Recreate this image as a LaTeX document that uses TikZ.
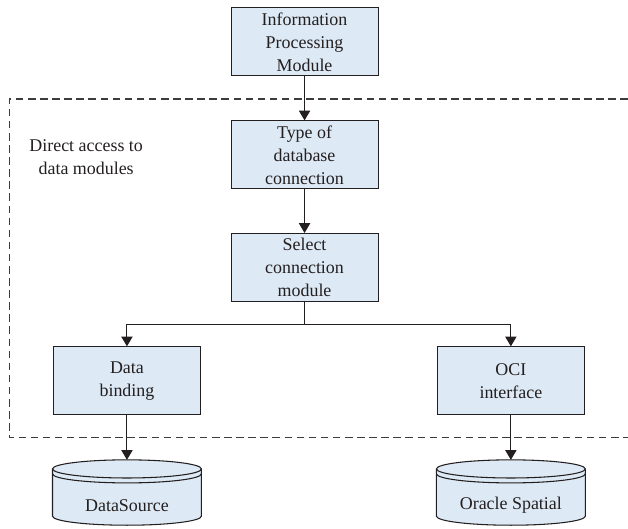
\documentclass[tikz,border=0pt]{standalone}
\usepackage{fontspec}
\setmainfont{Liberation Serif}
\usepackage{xcolor}
\usepackage{tikz}
\usetikzlibrary{arrows.meta}
\definecolor{boxfill}{HTML}{DDE9F4}
\definecolor{boxdraw}{HTML}{231F20}
\definecolor{regiondraw}{HTML}{3C3C3C}
\definecolor{textcolor}{HTML}{231F20}
\tikzset{
  >=Triangle,
  module/.style={
    rectangle,
    draw=boxdraw,
    fill=boxfill,
    line width=0.8pt,
    minimum width=3.89cm,
    minimum height=1.80cm,
    inner sep=0pt,
    align=center,
    text=textcolor,
    font=\fontsize{13.5}{17.25}\selectfont
  },
  flow/.style={
    draw=boxdraw,
    line width=0.8pt,
    -{Triangle[length=2.6mm,width=3.0mm]}
  },
  link/.style={
    draw=boxdraw,
    line width=0.8pt
  },
  region/.style={
    draw=regiondraw,
    line width=0.8pt,
    dash pattern=on 2mm off 1.2mm
  },
  region label/.style={
    align=center,
    text=textcolor,
    font=\fontsize{13.5}{17.25}\selectfont
  },
  store/.style={
    draw=boxdraw,
    fill=boxfill,
    line width=0.8pt
  },
  store label/.style={
    text=textcolor,
    inner sep=0pt,
    font=\fontsize{13.5}{17.25}\selectfont
  }
}
% #1 name, #2 x of centre, #3 text
\newcommand{\database}[3]{%
  \begin{scope}[shift={(#2,0)}]
    \path[store] (-1.97,1.59) -- (-1.97,0.34)
      arc[start angle=180,end angle=360,x radius=1.97,y radius=0.24]
      -- (1.97,1.59)
      arc[start angle=0,end angle=180,x radius=1.97,y radius=0.24] -- cycle;
    \draw[link] (-1.97,1.59) arc[start angle=180,end angle=360,x radius=1.97,y radius=0.24];
    \draw[link] (-1.97,1.46) arc[start angle=180,end angle=360,x radius=1.97,y radius=0.24];
  \end{scope}
  \node[store label] (#1) at (#2,0.63) {#3};
  \coordinate (#1-top) at (#2,1.83);
}

\begin{document}
\begin{tikzpicture}[x=1cm,y=1cm]
  \useasboundingbox (0,0) rectangle (16.62,14.00);

  % data access region
  \draw[region] (16.62,11.38) -- (0.24,11.38) -- (0.24,2.41) -- (16.62,2.41);
  \node[region label] (access) at (2.28,9.84) {Direct access to\\data modules};

  \node[module] (info)   at (8.06,12.89) {Information\\Processing\\Module};
  \node[module] (dbtype) at (8.06,9.90)  {Type of\\database\\connection};
  \node[module] (select) at (8.06,6.92)  {Select\\connection\\module};
  \node[module] (bind)   at (3.36,3.92)  {Data\\binding};
  \node[module] (oci)    at (13.52,3.92) {OCI\\interface};

  \database{dsrc}{3.36}{DataSource}
  \database{orsp}{13.52}{Oracle Spatial}

  \coordinate (fork) at (8.06,5.42);

  \draw[flow] (info) -- (dbtype);
  \draw[flow] (dbtype) -- (select);
  \draw[link] (select) -- (fork);
  \draw[flow] (fork) -| (bind);
  \draw[flow] (fork) -| (oci);
  \draw[flow] (bind) -- (dsrc-top);
  \draw[flow] (oci) -- (orsp-top);
\end{tikzpicture}
\end{document}
